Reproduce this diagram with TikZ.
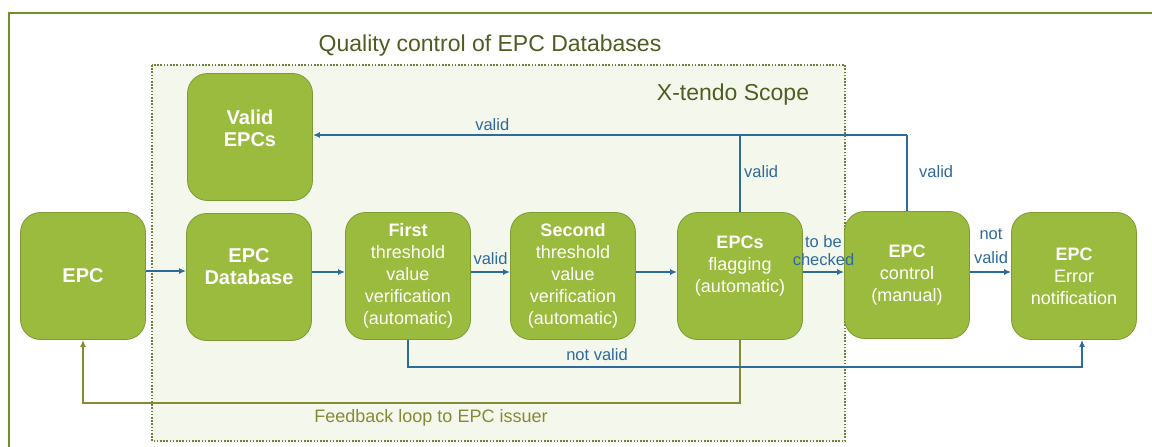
\documentclass[tikz,border=0pt]{standalone}
\usepackage{fontspec}
\setmainfont{Liberation Sans}
\usetikzlibrary{arrows.meta,calc}
\definecolor{boxg}{HTML}{9BBB3E}
\definecolor{boxb}{HTML}{7E9A34}
\definecolor{frameg}{HTML}{6E8F2A}
\definecolor{scopefill}{HTML}{F4F8EC}
\definecolor{scopeb}{HTML}{6F7F3A}
\definecolor{flowb}{HTML}{2F6A9C}
\definecolor{olivel}{HTML}{868A35}
\definecolor{titleg}{HTML}{4E5E22}
\begin{document}
\begin{tikzpicture}[x=1pt,y=-1pt,
  box/.style={draw=boxb, line width=0.8pt, fill=boxg, rounded corners=20pt,
    minimum width=125pt, minimum height=127pt, inner sep=0pt},
  boxtext/.style={text=white, align=center, font=\fontsize{18}{22}\selectfont, inner sep=0pt},
  flow/.style={draw=flowb, line width=1.4pt, -{Latex[length=7pt,width=6pt]}},
  flowline/.style={draw=flowb, line width=1.4pt},
  fbline/.style={draw=olivel, line width=1.4pt, -{Latex[length=7pt,width=6pt]}},
  lbl/.style={text=flowb, font=\fontsize{16.5}{18}\selectfont, inner sep=0pt, align=center},
  heading/.style={text=titleg, font=\fontsize{23}{26}\selectfont, inner sep=0pt}]
\useasboundingbox (0,0) rectangle (1152,447);
\fill[white] (0,0) rectangle (1152,447);
% outer frame (only top and left visible)
\draw[frameg, line width=2pt] (9,447) -- (9,13) -- (1152,13);
% scope area
\draw[scopeb, fill=scopefill, line width=1.6pt, dash pattern=on 1.6pt off 1.6pt] (152,65) rectangle (845,441);
\node[heading] (title) at (490,46) {Quality control of EPC Databases};
\node[heading] (scope) at (733,95) {X-tendo Scope};
% boxes
\node[box] (epc) at (83,276) {};
\node[box] (valid) at (250,137) {};
\node[box] (db) at (249,277) {};
\node[box] (first) at (408,276) {};
\node[box] (second) at (573,276) {};
\node[box] (flag) at (740,276) {};
\node[box] (ctrl) at (907,275) {};
\node[box] (err) at (1074,276) {};
% box texts
\node[boxtext] (tepc) at (epc) {\fontsize{20}{25}\selectfont\textbf{EPC}};
\node[boxtext] (tvalid) at (250,128) {\fontsize{20}{25}\selectfont\textbf{Valid}\\\fontsize{20}{25}\selectfont\textbf{EPCs}};
\node[boxtext] (tdb) at (249,267) {\fontsize{20}{25}\selectfont\textbf{EPC}\\\fontsize{20}{25}\selectfont\textbf{Database}};
\node[boxtext] (tfirst) at (first) {\textbf{First}\\threshold\\value\\verification\\(automatic)};
\node[boxtext] (tsecond) at (second) {\textbf{Second}\\threshold\\value\\verification\\(automatic)};
\node[boxtext] (tflag) at (740,266) {\textbf{EPCs}\\flagging\\(automatic)};
\node[boxtext] (tctrl) at (ctrl) {\textbf{EPC}\\control\\(manual)};
\node[boxtext] (terr) at (err) {\textbf{EPC}\\Error\\notification};
% main flow
\draw[flow] ($(epc.east)+(0,-5)$) -- ($(db.west)+(0,-6)$);
\draw[flow] ($(db.east)+(0,-5)$) -- ($(first.west)+(0,-4)$);
\draw[flow] ($(first.east)+(0,-4)$) -- node[lbl, above=7pt] (lv1) {valid} ($(second.west)+(0,-4)$);
\draw[flow] ($(second.east)+(0,-4)$) -- ($(flag.west)+(0,-4)$);
\draw[flow] ($(flag.east)+(0,-4)$) -- node[lbl, above=6pt] (ltbc) {to be\\checked} ($(ctrl.west)+(0,-3)$);
\draw[flow] ($(ctrl.east)+(0,-3)$) -- ($(err.west)+(0,-4)$);
\node[lbl, font=\fontsize{16.5}{24}\selectfont] (lnv2) at (991,246) {not\\valid};
% valid back to Valid EPCs
\coordinate (vj) at (907,135);
\draw[flowline] (ctrl.north) -- (vj);
\draw[flow] (vj) -- (flag.north |- vj) -- node[lbl, above=4pt, pos=0.58] (lv0) {valid} (valid.east |- vj);
\draw[flowline] (flag.north) -- (flag.north |- vj);
\node[lbl, anchor=west] (lv2) at (744,172) {valid};
\node[lbl, anchor=west] (lv3) at (919,172) {valid};
% feedback loop
\coordinate (fb) at (83,403);
\draw[fbline] (flag.south) |- (fb) -- (epc.south);
\node[text=olivel, font=\fontsize{18}{20}\selectfont, inner sep=0pt] (fbl) at (431,418) {Feedback loop to EPC issuer};
% not valid to error
\coordinate (nv) at (1082,367);
\draw[flow] (first.south) |- (nv) -- (nv |- err.south);
\node[lbl] (lnv) at (597,355) {not valid};
\end{tikzpicture}
\end{document}
